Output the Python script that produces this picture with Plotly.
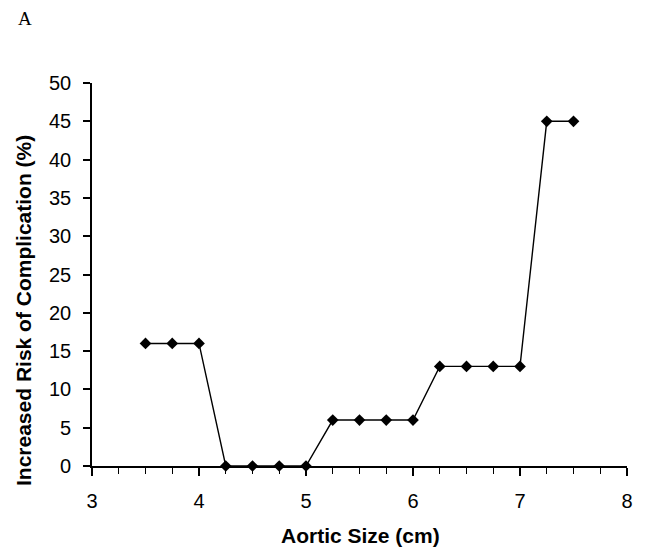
import plotly.graph_objects as go

aortic_size = [3.5, 3.75, 4.0, 4.25, 4.5, 4.75, 5.0, 5.25, 5.5, 5.75, 6.0, 6.25, 6.5, 6.75, 7.0, 7.25, 7.5]
risk_pct = [16, 16, 16, 0, 0, 0, 0, 6, 6, 6, 6, 13, 13, 13, 13, 45, 45]

x_ticks = [3, 4, 5, 6, 7, 8]
y_ticks = [0, 5, 10, 15, 20, 25, 30, 35, 40, 45, 50]

W, H = 637, 540
ML, MR, MT, MB = 84, 18, 75, 82
PW, PH = W - ML - MR, H - MT - MB


def px(fx):
    return (fx - ML) / PW


def py(fy):
    return (H - MB - fy) / PH


fig = go.Figure()
fig.add_trace(go.Scatter(
    x=aortic_size, y=risk_pct, mode="lines+markers",
    line=dict(color="black", width=1.4),
    marker=dict(symbol="diamond", size=9, color="black"),
    cliponaxis=False, showlegend=False,
))

fig.update_layout(
    width=W, height=H,
    margin=dict(l=ML, r=MR, t=MT, b=MB),
    paper_bgcolor="white", plot_bgcolor="white",
    font=dict(family="Liberation Sans, Arial", color="black", size=20),
    xaxis=dict(
        range=[3, 8], tickvals=x_ticks, ticktext=[str(v) for v in x_ticks],
        showgrid=False, zeroline=False,
        showline=True, linecolor="black", linewidth=1.6,
        ticks="outside", ticklen=8, tickwidth=1.5, tickcolor="black",
        minor=dict(dtick=0.25, tick0=3, ticks="outside", ticklen=6, tickwidth=1.3,
                   tickcolor="black", showgrid=False),
        tickfont=dict(size=20), ticklabelstandoff=8,
    ),
    yaxis=dict(
        range=[0, 50], tickvals=y_ticks, ticktext=[str(v) for v in y_ticks],
        showgrid=False, zeroline=False,
        showline=True, linecolor="black", linewidth=1.6,
        ticks="outside", ticklen=7, tickwidth=1.5, tickcolor="black",
        tickfont=dict(size=20), ticklabelstandoff=8,
    ),
    annotations=[
        dict(text="A", x=px(17), y=py(10.5), xref="paper", yref="paper", showarrow=False,
             xanchor="center", yanchor="middle",
             font=dict(family="Liberation Serif, Times New Roman", size=19, color="black")),
        dict(text="<b>Aortic Size (cm)</b>", x=px(352), y=py(527), xref="paper", yref="paper",
             showarrow=False, xanchor="center", yanchor="middle",
             font=dict(size=21, color="black")),
        dict(text="<b>Increased Risk of Complication (%)</b>", x=px(15), y=py(303),
             xref="paper", yref="paper", showarrow=False, textangle=-90,
             xanchor="center", yanchor="middle",
             font=dict(size=21, color="black")),
    ],
)

fig.write_html("out.html")
